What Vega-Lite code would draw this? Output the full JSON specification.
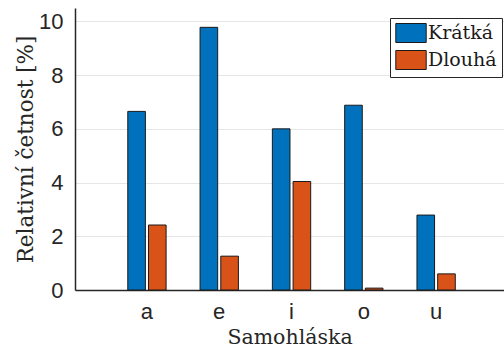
{
  "$schema": "https://vega.github.io/schema/vega-lite/v6.json",
  "width": 429,
  "height": 282,
  "padding": {"left": 75, "top": 8, "right": 0, "bottom": 57},
  "autosize": {"type": "none"},
  "background": "white",
  "data": {
    "values": [
      {"samohlaska": "a", "delka": "Krátká", "cetnost": 6.65},
      {"samohlaska": "a", "delka": "Dlouhá", "cetnost": 2.42},
      {"samohlaska": "e", "delka": "Krátká", "cetnost": 9.78},
      {"samohlaska": "e", "delka": "Dlouhá", "cetnost": 1.26},
      {"samohlaska": "i", "delka": "Krátká", "cetnost": 6.0},
      {"samohlaska": "i", "delka": "Dlouhá", "cetnost": 4.04},
      {"samohlaska": "o", "delka": "Krátká", "cetnost": 6.88},
      {"samohlaska": "o", "delka": "Dlouhá", "cetnost": 0.07},
      {"samohlaska": "u", "delka": "Krátká", "cetnost": 2.79},
      {"samohlaska": "u", "delka": "Dlouhá", "cetnost": 0.6}
    ]
  },
  "mark": {"type": "bar", "stroke": "#1a1a1a", "strokeWidth": 1},
  "encoding": {
    "x": {
      "field": "samohlaska",
      "type": "nominal",
      "sort": ["a", "e", "i", "o", "u"],
      "scale": {"paddingInner": 0.47, "paddingOuter": 0.702, "align": 0.52},
      "axis": {
        "title": "Samohláska",
        "titleFont": "DejaVu Serif, serif",
        "titleFontSize": 20.5,
        "titleFontWeight": "normal",
        "titleColor": "#262626",
        "titlePadding": 5,
        "labelFont": "Liberation Sans, Arial, sans-serif",
        "labelFontSize": 22,
        "labelColor": "#262626",
        "labelAngle": 0,
        "labelPadding": 11,
        "ticks": false,
        "domainColor": "#262626",
        "domainWidth": 1.5,
        "grid": false
      }
    },
    "xOffset": {
      "field": "delka",
      "type": "nominal",
      "sort": ["Krátká", "Dlouhá"],
      "scale": {"paddingInner": 0.15}
    },
    "y": {
      "field": "cetnost",
      "type": "quantitative",
      "scale": {"domain": [0, 10.5], "nice": false},
      "axis": {
        "title": "Relativní četnost [%]",
        "titleFont": "DejaVu Serif, serif",
        "titleFontSize": 21.5,
        "titleFontWeight": "normal",
        "titleColor": "#262626",
        "titlePadding": 1,
        "values": [0, 2, 4, 6, 8, 10],
        "labelFont": "Liberation Sans, Arial, sans-serif",
        "labelFontSize": 22,
        "labelColor": "#262626",
        "labelPadding": 12,
        "ticks": false,
        "domainColor": "#262626",
        "domainWidth": 1.5,
        "grid": true,
        "gridColor": "#e6e6e6",
        "gridWidth": 1
      }
    },
    "color": {
      "field": "delka",
      "type": "nominal",
      "sort": ["Krátká", "Dlouhá"],
      "scale": {"domain": ["Krátká", "Dlouhá"], "range": ["#0072BD", "#D95319"]},
      "legend": {
        "title": null,
        "orient": "none",
        "legendX": 315,
        "legendY": 10,
        "fillColor": "white",
        "strokeColor": "#262626",
        "padding": 5,
        "rowPadding": 3,
        "symbolType": "M-1.6,-1H1.6V1H-1.6Z",
        "symbolSize": 361,
        "symbolOffset": 6,
        "symbolStrokeColor": "#1a1a1a",
        "symbolStrokeWidth": 1,
        "symbolOpacity": 1,
        "labelFont": "DejaVu Serif, serif",
        "labelFontSize": 19,
        "labelColor": "#1a1a1a",
        "labelOffset": 7
      }
    }
  },
  "config": {"view": {"stroke": null}}
}
